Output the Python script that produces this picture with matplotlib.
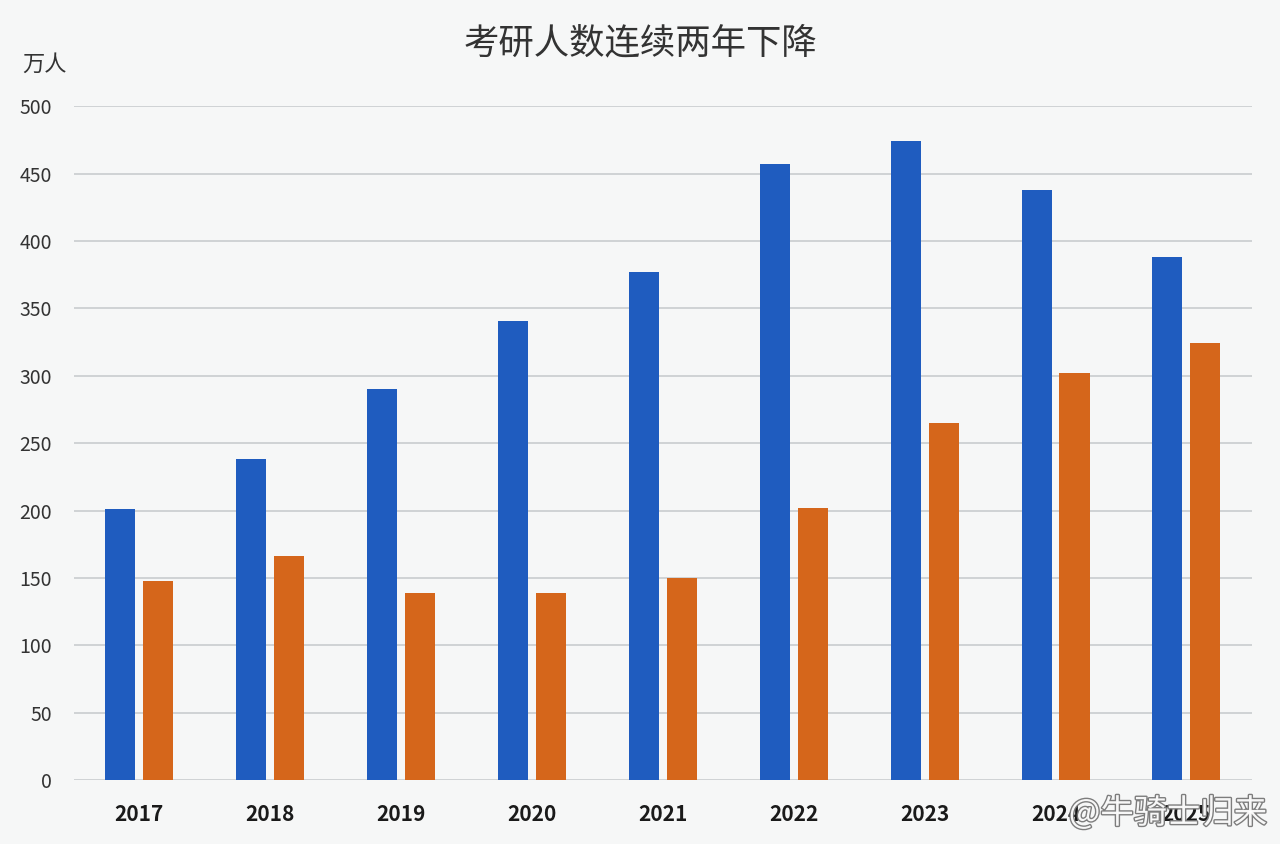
import matplotlib.pyplot as plt
import matplotlib.patheffects as pe
import numpy as np

plt.rcParams['font.family'] = ['Noto Sans CJK SC', 'DejaVu Sans']

years = ['2017', '2018', '2019', '2020', '2021', '2022', '2023', '2024', '2025']
applicants = [201, 238, 290, 341, 377, 457, 474, 438, 388]
others = [148, 166, 139, 139, 150, 202, 265, 302, 324]

blue = '#1f5cbf'
orange = '#d5661b'
bg = '#f6f7f7'

fig = plt.figure(figsize=(12.8, 8.44), dpi=100)
fig.patch.set_facecolor(bg)
ax = fig.add_axes([0.0578, 0.0758, 0.9202, 0.7982])
ax.set_facecolor(bg)

x = np.arange(len(years))
w = 0.23
ax.bar(x - 0.145, applicants, width=w, color=blue, zorder=3)
ax.bar(x + 0.145, others, width=w, color=orange, zorder=3)

ax.set_xlim(-0.5, 8.5)
ax.set_ylim(0, 500)
ax.set_yticks(range(0, 501, 50))
ax.yaxis.grid(True, color='#c9cccf', linewidth=1.2, zorder=0)
ax.set_xticks(x)
ax.set_xticklabels(years, fontsize=15, fontweight='bold', color='#1a1a1a')
ax.tick_params(axis='y', labelsize=14, colors='#333333', length=0, pad=16)
ax.tick_params(axis='x', length=0, pad=17)
for s in ax.spines.values():
    s.set_visible(False)

fig.text(0.5, 0.949, '考研人数连续两年下降', ha='center', va='center',
         fontsize=25.5, color='#333333')
fig.text(0.035, 0.924, '万人', ha='center', va='center', fontsize=16, color='#333333')

# watermark
fig.text(0.99, 0.036, '@牛骑士归来', ha='right', va='center', fontsize=24,
         color='white', alpha=0.95,
         path_effects=[pe.withStroke(linewidth=2, foreground='#777777')])

fig.savefig('out.png', dpi=100, facecolor=bg)
